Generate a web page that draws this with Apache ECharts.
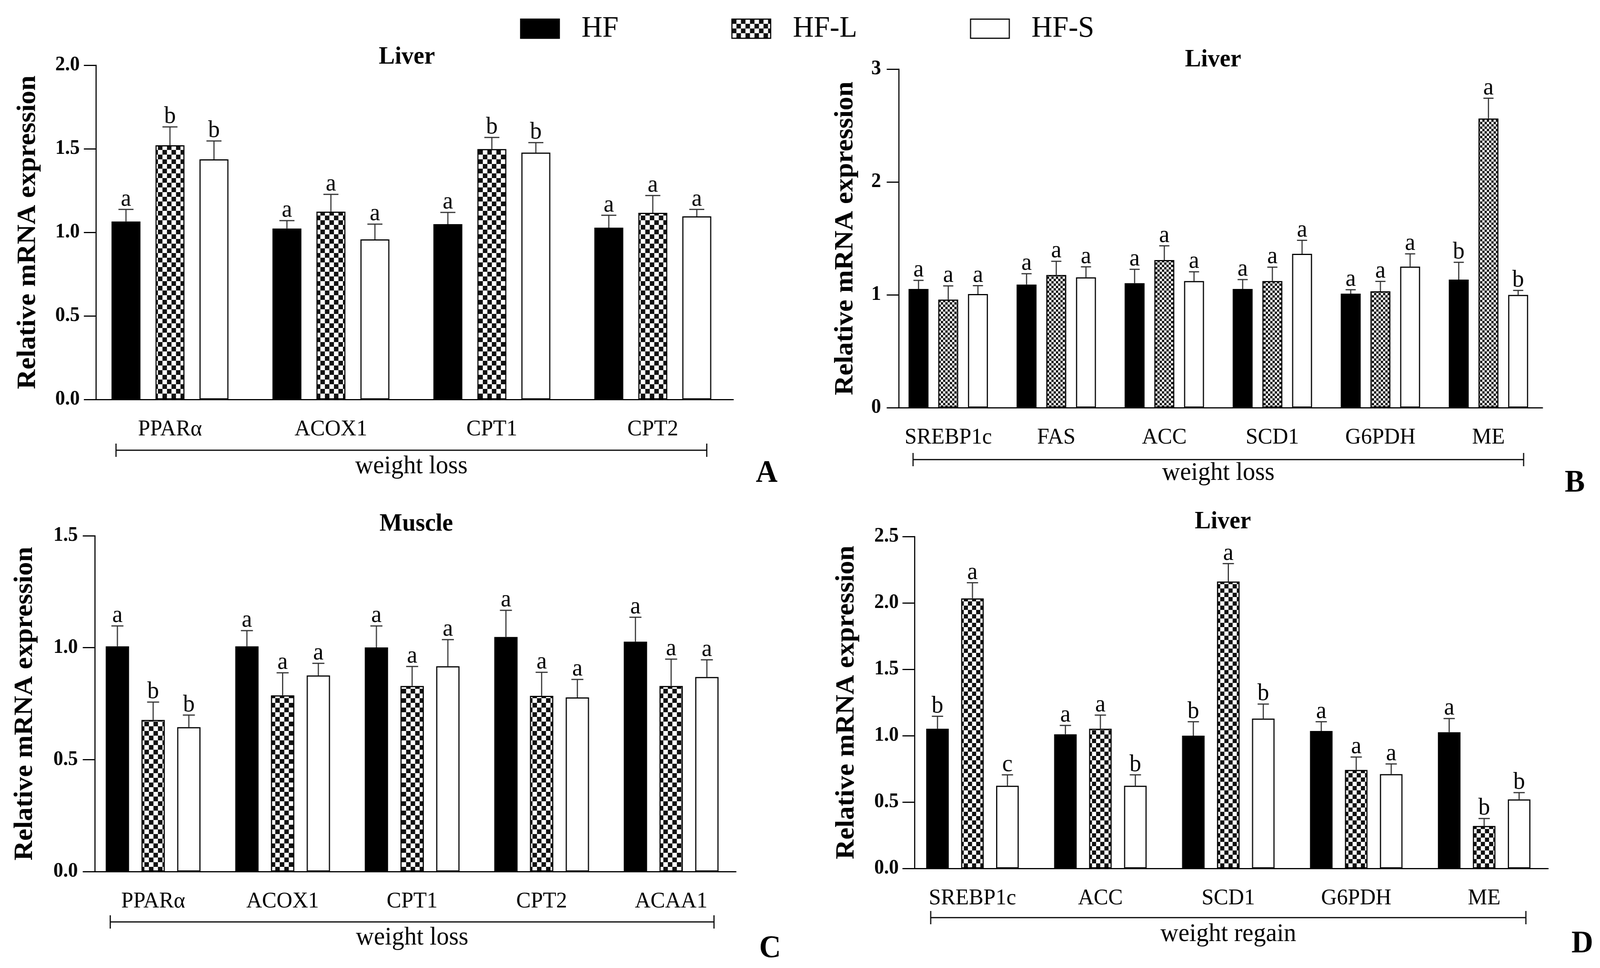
<!DOCTYPE html>
<html>
<head>
<meta charset="utf-8">
<script src="https://cdn.jsdelivr.net/npm/echarts@6.0.0/dist/echarts.min.js"></script>
<style>
  html, body { margin: 0; padding: 0; background: #fff; overflow: hidden; }
  #main { width: 4255px; height: 2479px; transform-origin: 0 0; }
</style>
</head>
<body>
<div id="main"></div>
<script>
var groups = ['HF', 'HF-L', 'HF-S'];

// A: liver, weight loss
var catA = ['PPARα', 'ACOX1', 'CPT1', 'CPT2'];
var meanA_HF = [1.065, 1.023, 1.049, 1.028];
var meanA_HFL = [1.521, 1.124, 1.498, 1.117];
var meanA_HFS = [1.437, 0.958, 1.477, 1.096];
var semA_HF = [0.072, 0.047, 0.070, 0.074];
var semA_HFL = [0.110, 0.103, 0.070, 0.103];
var semA_HFS = [0.110, 0.091, 0.060, 0.041];
var sigA_HF = ['a', 'a', 'a', 'a'];
var sigA_HFL = ['b', 'a', 'b', 'a'];
var sigA_HFS = ['b', 'a', 'b', 'a'];
var ticksA = [0, 0.5, 1.0, 1.5, 2.0];

// B: liver, weight loss
var catB = ['SREBP1c', 'FAS', 'ACC', 'SCD1', 'G6PDH', 'ME'];
var meanB_HF = [1.052, 1.091, 1.103, 1.052, 1.010, 1.135];
var meanB_HFL = [0.958, 1.176, 1.308, 1.122, 1.031, 2.562];
var meanB_HFS = [1.007, 1.155, 1.122, 1.363, 1.250, 0.999];
var semB_HF = [0.076, 0.096, 0.123, 0.083, 0.035, 0.153];
var semB_HFL = [0.121, 0.121, 0.126, 0.123, 0.088, 0.180];
var semB_HFS = [0.074, 0.093, 0.082, 0.120, 0.113, 0.040];
var sigB_HF = ['a', 'a', 'a', 'a', 'a', 'b'];
var sigB_HFL = ['a', 'a', 'a', 'a', 'a', 'a'];
var sigB_HFS = ['a', 'a', 'a', 'a', 'a', 'b'];
var ticksB = [0, 1, 2, 3];

// C: muscle, weight loss
var catC = ['PPARα', 'ACOX1', 'CPT1', 'CPT2', 'ACAA1'];
var meanC_HF = [1.006, 1.006, 1.001, 1.048, 1.027];
var meanC_HFL = [0.677, 0.787, 0.829, 0.785, 0.829];
var meanC_HFS = [0.645, 0.876, 0.917, 0.778, 0.869];
var semC_HF = [0.091, 0.070, 0.096, 0.119, 0.109];
var semC_HFL = [0.080, 0.101, 0.087, 0.105, 0.120];
var semC_HFS = [0.054, 0.054, 0.119, 0.080, 0.077];
var sigC_HF = ['a', 'a', 'a', 'a', 'a'];
var sigC_HFL = ['b', 'a', 'a', 'a', 'a'];
var sigC_HFS = ['b', 'a', 'a', 'a', 'a'];
var ticksC = [0, 0.5, 1.0, 1.5];

// D: liver, weight regain
var catD = ['SREBP1c', 'ACC', 'SCD1', 'G6PDH', 'ME'];
var meanD_HF = [1.052, 1.010, 1.000, 1.035, 1.026];
var meanD_HFL = [2.034, 1.052, 2.161, 0.742, 0.320];
var meanD_HFS = [0.623, 0.623, 1.129, 0.710, 0.520];
var semD_HF = [0.094, 0.067, 0.105, 0.070, 0.103];
var semD_HFL = [0.118, 0.103, 0.135, 0.097, 0.056];
var semD_HFS = [0.082, 0.082, 0.109, 0.077, 0.051];
var sigD_HF = ['b', 'a', 'b', 'a', 'a'];
var sigD_HFL = ['a', 'a', 'a', 'a', 'b'];
var sigD_HFS = ['c', 'b', 'b', 'a', 'b'];
var ticksD = [0, 0.5, 1.0, 1.5, 2.0, 2.5];

var SERIF = '"Liberation Serif", "Times New Roman", serif';

function checker(size) {
  var c = document.createElement('canvas');
  c.width = c.height = size * 2;
  var ctx = c.getContext('2d');
  ctx.fillStyle = '#fff';
  ctx.fillRect(0, 0, size * 2, size * 2);
  ctx.fillStyle = '#111';
  ctx.fillRect(0, 0, size, size);
  ctx.fillRect(size, size, size, size);
  return { image: c, repeat: 'repeat' };
}

// layout of the four panels (pixels)
var panels = [
  { cats: catA, means: [meanA_HF, meanA_HFL, meanA_HFS], sems: [semA_HF, semA_HFL, semA_HFS],
    sig: [sigA_HF, sigA_HFL, sigA_HFS], ticks: ticksA, digits: 1,
    grid: { left: 238, top: 167, width: 1712, height: 856 }, axisX: 255,
    barW: 77, gap: 40, cap: 40, check: 12, nameGap: 145, labelMargin: 43,
    title: 'Liver', titleX: 1082, titleY: 146, tag: 'A', tagX: 2039, tagY: 1213,
    group: 'weight loss', groupY: 1195, bracketY: 1153 },
  { cats: catB, means: [meanB_HF, meanB_HFL, meanB_HFS], sems: [semB_HF, semB_HFL, semB_HFS],
    sig: [sigB_HF, sigB_HFL, sigB_HFS], ticks: ticksB, digits: 0,
    grid: { left: 2378, top: 177, width: 1724, height: 867 }, axisX: 2390,
    barW: 53, gap: 26, cap: 27, check: 6, nameGap: 106, labelMargin: 47,
    title: 'Liver', titleX: 3226, titleY: 153, tag: 'B', tagX: 4188, tagY: 1238,
    group: 'weight loss', groupY: 1212, bracketY: 1177 },
  { cats: catC, means: [meanC_HF, meanC_HFL, meanC_HFS], sems: [semC_HF, semC_HFL, semC_HFS],
    sig: [sigC_HF, sigC_HFL, sigC_HFS], ticks: ticksC, digits: 1,
    grid: { left: 235, top: 1372, width: 1722, height: 860 }, axisX: 252,
    barW: 62, gap: 33, cap: 32, check: 12, nameGap: 150, labelMargin: 45,
    title: 'Muscle', titleX: 1107, titleY: 1342, tag: 'C', tagX: 2048, tagY: 2430,
    group: 'weight loss', groupY: 2402, bracketY: 2361 },
  { cats: catD, means: [meanD_HF, meanD_HFL, meanD_HFS], sems: [semD_HF, semD_HFL, semD_HFS],
    sig: [sigD_HF, sigD_HFL, sigD_HFS], ticks: ticksD, digits: 1,
    grid: { left: 2416, top: 1374, width: 1701, height: 850 }, axisX: 2432,
    barW: 60, gap: 33, cap: 30, check: 11, nameGap: 145, labelMargin: 42,
    title: 'Liver', titleX: 3252, titleY: 1336, tag: 'D', tagX: 4208, tagY: 2418,
    group: 'weight regain', groupY: 2393, bracketY: 2350 }
];

var axisLine = { show: true, lineStyle: { color: '#000', width: 3 } };
var grids = [], xAxes = [], yAxes = [], series = [], graphics = [];

panels.forEach(function (p, i) {
  grids.push(p.grid);
  xAxes.push({
    type: 'category', gridIndex: i, data: p.cats,
    axisLine: axisLine,
    axisTick: { alignWithLabel: true, length: 34, lineStyle: { color: '#000', width: 3 } },
    axisLabel: { interval: 0, color: '#000', fontFamily: SERIF, fontSize: 58, margin: 48 }
  });
  var ticks = p.ticks;
  yAxes.push({
    type: 'value', gridIndex: i, min: ticks[0], max: ticks[ticks.length - 1],
    interval: ticks[1] - ticks[0], offset: p.grid.left - p.axisX,
    axisLine: axisLine,
    axisTick: { show: true, length: 32, lineStyle: { color: '#000', width: 3 } },
    splitLine: { show: false },
    axisLabel: {
      color: '#000', fontFamily: SERIF, fontWeight: 'bold', fontSize: 52, margin: p.labelMargin,
      formatter: function (v) { return v.toFixed(p.digits); }
    },
    name: 'Relative mRNA expression', nameLocation: 'middle', nameRotate: 90, nameGap: p.nameGap,
    nameTextStyle: { color: '#000', fontFamily: SERIF, fontWeight: 'bold', fontSize: 70 }
  });

  var fills = ['#000', checker(p.check), '#fff'];
  var stride = p.barW + p.gap;
  var errData = [], errSig = [];
  groups.forEach(function (g, s) {
    series.push({
      type: 'bar', name: g, xAxisIndex: i, yAxisIndex: i,
      data: p.means[s], barWidth: p.barW, barGap: (p.gap / p.barW * 100) + '%',
      itemStyle: { color: fills[s], borderColor: '#000', borderWidth: 3 },
      emphasis: { disabled: true }, z: 2
    });
    p.means[s].forEach(function (m, k) {
      errData.push([k, s, m, p.sems[s][k]]);
      errSig.push(p.sig[s][k]);
    });
  });

  // error bar (mean + SEM) with cap, and the significance letter above it
  series.push({
    type: 'custom', xAxisIndex: i, yAxisIndex: i, z: 5, silent: true,
    data: errData,
    renderItem: function (params, api) {
      var k = api.value(0), s = api.value(1), m = api.value(2), e = api.value(3);
      var base = api.coord([k, m]);
      var top = api.coord([k, m + e]);
      var x = base[0] + (s - 1) * stride;
      var st = { stroke: '#333', lineWidth: 3 };
      return {
        type: 'group',
        children: [
          { type: 'line', shape: { x1: x, y1: base[1], x2: x, y2: top[1] }, style: st },
          { type: 'line', shape: { x1: x - p.cap / 2, y1: top[1], x2: x + p.cap / 2, y2: top[1] }, style: st },
          { type: 'text', x: x, y: top[1] + 5,
            style: { text: errSig[params.dataIndex], textAlign: 'center', textVerticalAlign: 'bottom',
                     font: '62px ' + SERIF, fill: '#000' } }
        ]
      };
    }
  });

  graphics.push(
    { type: 'text', x: p.titleX, y: p.titleY,
      style: { text: p.title, textAlign: 'center', textVerticalAlign: 'middle', font: 'bold 64px ' + SERIF, fill: '#000' } },
    { type: 'text', x: p.tagX, y: p.tagY,
      style: { text: p.tag, textAlign: 'center', textVerticalAlign: 'middle', font: 'bold 80px ' + SERIF, fill: '#000' } }
  );
});

// fit the 4255x2479 figure into the viewport we actually get
var fitX = Math.min(1, window.innerWidth / 4255), fitY = Math.min(1, window.innerHeight / 2479);
if (fitX < 1 || fitY < 1) {
  document.getElementById('main').style.transform = 'scale(' + fitX + ',' + fitY + ')';
}

var chart = echarts.init(document.getElementById('main'), null, { width: 4255, height: 2479, devicePixelRatio: 1 });
chart.setOption({
  backgroundColor: '#fff',
  animation: false,
  legend: {
    data: groups, left: 1378, top: 30, itemWidth: 103, itemHeight: 49, itemGap: 300,
    icon: 'rect', selectedMode: false,
    itemStyle: { borderColor: '#000', borderWidth: 3 },
    textStyle: { color: '#000', fontFamily: SERIF, fontSize: 77, padding: [0, 0, 0, 54] }
  },
  grid: grids,
  xAxis: xAxes,
  yAxis: yAxes,
  series: series
});

// brackets under each category axis, spanning the bar groups
panels.forEach(function (p, i) {
  var half = (3 * p.barW + 2 * p.gap) / 2 - 12;
  var x0 = chart.convertToPixel({ xAxisIndex: i }, 0) - half;
  var x1 = chart.convertToPixel({ xAxisIndex: i }, p.cats.length - 1) + half;
  var y = p.bracketY;
  var ls = { stroke: '#000', lineWidth: 3 };
  graphics.push(
    { type: 'line', shape: { x1: x0, y1: y, x2: x1, y2: y }, style: ls },
    { type: 'line', shape: { x1: x0, y1: y - 17, x2: x0, y2: y + 17 }, style: ls },
    { type: 'line', shape: { x1: x1, y1: y - 17, x2: x1, y2: y + 17 }, style: ls },
    { type: 'text', x: (x0 + x1) / 2, y: p.groupY,
      style: { text: p.group, textAlign: 'center', textVerticalAlign: 'middle', font: '66px ' + SERIF, fill: '#000' } }
  );
});
chart.setOption({ graphic: graphics });
</script>
</body>
</html>
